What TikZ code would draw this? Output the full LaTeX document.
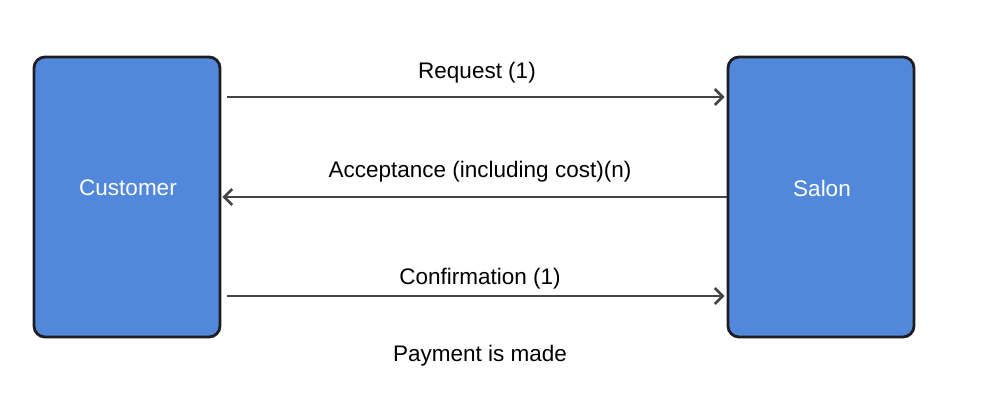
\documentclass[tikz,border=0pt]{standalone}
\usepackage{fontspec}
\setmainfont{Liberation Sans}
\usetikzlibrary{arrows.meta}
\definecolor{boxblue}{HTML}{5288DB}
\definecolor{boxline}{HTML}{1E1E22}
\definecolor{arrowgray}{HTML}{444444}
\begin{document}
\begin{tikzpicture}[x=1pt,y=-1pt,
  actor/.style={draw=boxline,line width=2.8pt,fill=boxblue,rounded corners=11pt,
    minimum width=186pt,minimum height=280pt,inner sep=0pt,text=white,
    font=\fontsize{22.5}{27}\selectfont},
  msg/.style={draw=arrowgray,line width=2.4pt,-{Straight Barb[length=8pt,width=16pt,line width=2.6pt]}},
  lbl/.style={font=\fontsize{22.5}{27}\selectfont,text=black,inner sep=0pt}]
\useasboundingbox (0,0) rectangle (983,410);
\node[actor] (cust) at (127,197) {};
\node[actor] (salon) at (821,197) {};
\node[lbl,text=white] (ct) at (128,188) {Customer};
\node[lbl,text=white] (st) at (822,188) {Salon};
\draw[msg] ([xshift=6pt,yshift=100pt]cust.east) -- ([xshift=-2pt,yshift=100pt]salon.west);
\draw[msg] ([yshift=0pt]salon.west) -- ([xshift=1pt]cust.east);
\draw[msg] ([xshift=6pt,yshift=-99pt]cust.east) -- ([xshift=-2pt,yshift=-99pt]salon.west);
\node[lbl] (l1) at (477,73) {Request (1)};
\node[lbl] (l2) at (480,172) {Acceptance (including cost)(n)};
\node[lbl] (l3) at (480,279) {Confirmation (1)};
\node[lbl] (l4) at (480,356) {Payment is made};
\end{tikzpicture}
\end{document}
